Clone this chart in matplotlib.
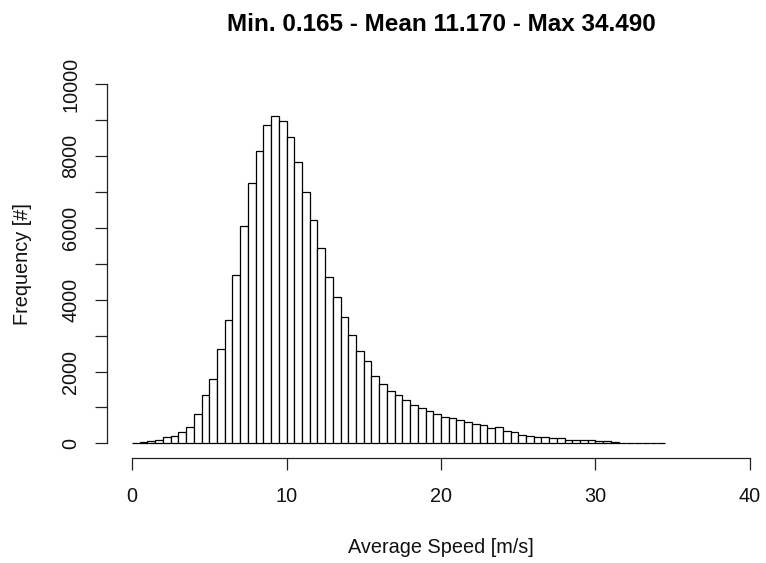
#!/usr/bin/env python3

import matplotlib

matplotlib.use("Agg")
import matplotlib.pyplot as plt
import numpy as np


BIN_START = 0.0
BIN_WIDTH = 0.5

# counts per 0.5 m/s bin (bins 0-0.5 ... 34-34.5)
COUNTS = [
    20, 37, 65, 102, 186, 195, 306, 464, 808, 1337,
    1792, 2618, 3445, 4680, 6063, 7242, 8143, 8858, 9127, 8988,
    8533, 7846, 7001, 6212, 5432, 4643, 4067, 3510, 3008, 2581,
    2284, 1866, 1653, 1467, 1337, 1207, 1068, 975, 901, 812,
    730, 710, 645, 590, 552, 520, 420, 466, 338, 310,
    227, 214, 187, 187, 155, 155, 84, 93, 93, 102,
    74, 65, 30, 22, 20, 18, 15, 14, 12,
]

X_TICKS = [0, 10, 20, 30, 40]
Y_TICKS = [0, 1000, 2000, 3000, 4000, 5000, 6000, 7000, 8000, 9000, 10000]
Y_TICK_LABELS = ["0", "", "2000", "", "4000", "", "6000", "", "8000", "", "10000"]

TITLE = "Min. 0.165 - Mean 11.170 - Max 34.490"
X_LABEL = "Average Speed [m/s]"
Y_LABEL = "Frequency [#]"


def main():
    plt.rcParams["font.family"] = ["Liberation Sans", "DejaVu Sans"]
    plt.rcParams["font.size"] = 14.3

    width_px, height_px = 766, 563
    figure = plt.figure(figsize=(width_px / 100, height_px / 100), dpi=100)
    # plot region as R lays it out (extends past the right edge of the image)
    left, right, top, bottom = 107.3, 774.7, 70.0, 457.7
    axis = figure.add_axes([
        left / width_px,
        (height_px - bottom) / height_px,
        (right - left) / width_px,
        (bottom - top) / height_px,
    ])

    counts = np.asarray(COUNTS)
    edges = BIN_START + BIN_WIDTH * np.arange(len(counts))
    axis.bar(
        edges,
        counts,
        width=BIN_WIDTH,
        align="edge",
        facecolor="white",
        edgecolor="black",
        linewidth=0.9,
    )

    axis.set_xlim(-1.6, 41.6)
    axis.set_ylim(-400, 10400)

    for side in ("top", "right"):
        axis.spines[side].set_visible(False)
    axis.spines["left"].set_bounds(0, 10000)
    axis.spines["bottom"].set_bounds(0, 40)
    for side in ("left", "bottom"):
        axis.spines[side].set_linewidth(0.9)
        axis.spines[side].set_color("#222222")

    axis.set_xticks(X_TICKS)
    axis.set_xticklabels([str(t) for t in X_TICKS])
    axis.set_yticks(Y_TICKS)
    axis.set_yticklabels(Y_TICK_LABELS, rotation=90, va="center")
    axis.tick_params(
        axis="both",
        direction="out",
        length=8.6,
        width=0.9,
        color="#222222",
        labelcolor="#111111",
    )
    axis.tick_params(axis="x", pad=12.5)
    axis.tick_params(axis="y", pad=11)

    axis.set_xlabel(X_LABEL, labelpad=23, color="#111111")
    axis.set_ylabel(Y_LABEL, labelpad=21, color="#111111")
    axis.set_title(TITLE, fontsize=17.5, fontweight="bold", pad=28)

    figure.savefig("out.png", dpi=100)
    plt.close(figure)


if __name__ == "__main__":
    main()
